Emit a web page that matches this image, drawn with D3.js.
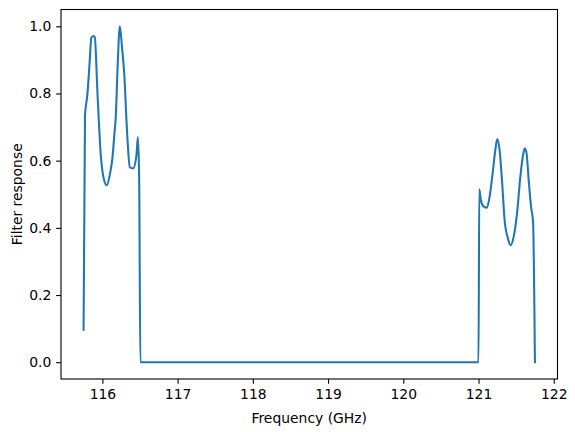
<!DOCTYPE html>
<html>
<head>
<meta charset="utf-8">
<script src="https://cdn.jsdelivr.net/npm/d3@7"></script>
<style>
    body { margin: 0; background: #fff; }
    svg { display: block; font-family: "DejaVu Sans", sans-serif; }
</style>
</head>
<body>
<svg id="svg" width="575" height="432"></svg>
<script>
// filter response, frequency in GHz
const freq = [
    115.75, 115.769, 115.80, 115.83, 115.853, 115.88, 115.899, 115.935, 115.979, 116.02, 116.059,
    116.10, 116.133, 116.16, 116.179, 116.2, 116.232, 116.26, 116.289, 116.333, 116.365,
    116.409, 116.453, 116.472, 116.489, 116.505,
    121.0,
    121.01, 121.032, 121.067, 121.112, 121.147, 121.187, 121.223, 121.249, 121.28, 121.312,
    121.347, 121.392, 121.427, 121.467, 121.512, 121.556, 121.592, 121.613, 121.636, 121.667,
    121.699, 121.725, 121.75
];
const response = [
    0.097, 0.735, 0.795, 0.89, 0.965, 0.971, 0.968, 0.80, 0.616, 0.545, 0.527,
    0.56, 0.607, 0.68, 0.735, 0.864, 1.0, 0.94, 0.864, 0.667, 0.58,
    0.577, 0.616, 0.67, 0.55, 0.0,
    0.0,
    0.515, 0.482, 0.464, 0.46, 0.492, 0.561, 0.631, 0.664, 0.631, 0.542,
    0.423, 0.368, 0.348, 0.373, 0.443, 0.552, 0.616, 0.636, 0.626, 0.542,
    0.462, 0.418, 0.0
];
const yTicks = [0.0, 0.2, 0.4, 0.6, 0.8, 1.0];
const xTicks = [116, 117, 118, 119, 120, 121, 122];

const margin = { left: 61, right: 17.5, top: 9.5, bottom: 53 };
const width = 575, height = 432;
const fontSize = '13.9px';

const data = freq.map((f, i) => ({ f, r: response[i] }));

// matplotlib style 5% margins
function padded(ext) {
    const d = (ext[1] - ext[0]) * 0.05;
    return [ext[0] - d, ext[1] + d];
}

const x = d3.scaleLinear()
    .domain(padded(d3.extent(freq)))
    .range([margin.left, width - margin.right]);
const y = d3.scaleLinear()
    .domain(padded([0, d3.max(response)]))
    .range([height - margin.bottom, margin.top]);

const svg = d3.select('#svg');

const line = d3.line()
    .x(d => x(d.f))
    .y(d => y(d.r))
    .curve(d3.curveMonotoneX);

svg.append('path')
    .datum(data)
    .attr('fill', 'none')
    .attr('stroke', '#1f77b4')
    .attr('stroke-width', 2.08)
    .attr('stroke-linejoin', 'round')
    .attr('stroke-linecap', 'square')
    .attr('d', line);

const xAxis = svg.append('g')
    .attr('transform', `translate(0,${height - margin.bottom})`)
    .call(d3.axisBottom(x).tickValues(xTicks).tickFormat(d3.format('d')).tickSize(4.86).tickPadding(4.86));

const yAxis = svg.append('g')
    .attr('transform', `translate(${margin.left},0)`)
    .call(d3.axisLeft(y).tickValues(yTicks).tickFormat(d3.format('.1f')).tickSize(4.86).tickPadding(4.86));

[xAxis, yAxis].forEach(a => {
    a.select('.domain').remove();
    a.selectAll('line').attr('stroke', '#000').attr('stroke-width', 1.1);
    a.selectAll('text')
        .attr('fill', '#000')
        .style('font-size', fontSize)
        .style('font-family', '"DejaVu Sans", sans-serif');
});

// spines
svg.append('rect')
    .attr('x', margin.left)
    .attr('y', margin.top)
    .attr('width', width - margin.left - margin.right)
    .attr('height', height - margin.top - margin.bottom)
    .attr('fill', 'none')
    .attr('stroke', '#000')
    .attr('stroke-width', 1.1);

svg.append('text')
    .attr('x', (margin.left + width - margin.right) / 2)
    .attr('y', 423)
    .attr('text-anchor', 'middle')
    .style('font-size', fontSize)
    .text('Frequency (GHz)');

svg.append('text')
    .attr('transform', `translate(22,${(margin.top + height - margin.bottom) / 2}) rotate(-90)`)
    .attr('text-anchor', 'middle')
    .style('font-size', fontSize)
    .text('Filter response');
</script>
</body>
</html>
